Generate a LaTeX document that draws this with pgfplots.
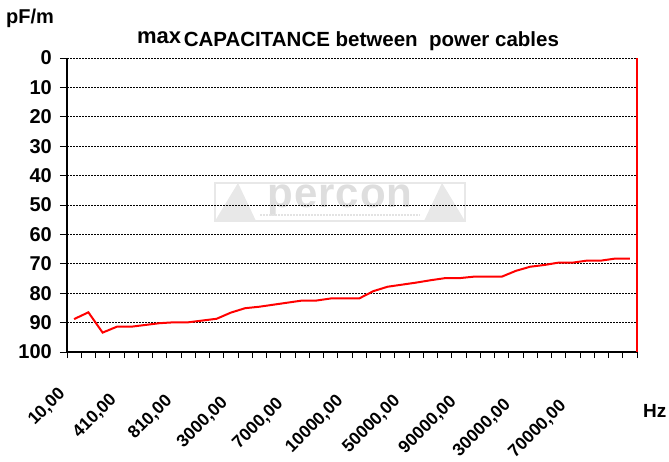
\documentclass[border=0pt]{standalone}
\usepackage{fontspec}
\setmainfont{Liberation Sans}
\usepackage{pgfplots}
\pgfplotsset{compat=1.18}
\begin{document}
\begin{tikzpicture}
\useasboundingbox (0pt,0pt) rectangle (669pt,462pt);
% watermark logo (decoration)
\draw[gray!18, line width=2.5pt] (215pt,241pt) rectangle (465pt,279pt);
\fill[gray!18] (215pt,241pt) -- (238pt,279pt) -- (256pt,241pt) -- cycle;
\fill[gray!18] (465pt,241pt) -- (442pt,279pt) -- (424pt,241pt) -- cycle;
\node[text=gray!26, font=\fontsize{42}{42}\selectfont\bfseries, inner sep=0pt, anchor=base] at (340pt,254pt) {p\kern1pt e\kern1pt r\kern1pt c\kern1pt o\kern1pt n};
\draw[gray!22, line width=1.2pt, dash pattern=on 2pt off 1pt] (260pt,247pt) -- (420pt,247pt);
\begin{axis}[
  at={(67pt,110pt)}, anchor=south west,
  scale only axis, width=570pt, height=294pt,
  xmin=0, xmax=40, ymin=0, ymax=100,
  y dir=reverse,
  axis x line*=bottom, axis y line*=left,
  axis line style={-, line width=1.6pt, black},
  tick align=outside,
  ytick={0,10,...,100},
  major tick length=7pt,
  ymajorgrids,
  major y grid style={black, line width=0.9pt, dash pattern=on 2pt off 1pt},
  xtick={0.5,4.5,...,36.5},
  xticklabels={{10,00},{410,00\kern8pt},{810,00\kern10pt},{3000,00\kern12pt},{7000,00\kern14pt},{10000,00\kern10pt},{50000,00\kern10pt},{90000,00\kern11pt},{30000,00\kern15pt},{70000,00\kern17pt}},
  major x tick style={draw=none},
  minor xtick={0,1,...,40},
  minor tick length=6pt,
  minor x tick style={black, line width=0.9pt},
  major y tick style={black, line width=0.9pt},
  /pgf/number format/assume math mode=true,
  yticklabel style={font=\fontsize{20}{20}\selectfont\bfseries, inner sep=0pt, xshift=-8pt},
  xticklabel style={font=\fontsize{17.5}{17.5}\selectfont\bfseries, inner sep=0pt, xshift=-17pt, yshift=-27pt, rotate=45, anchor=north east},
  clip=false,
]
\addplot[red, line width=2pt, mark=none] coordinates {
(0.5,88.8) (1.5,86.5) (2.5,93.4) (3.5,91.4) (4.5,91.4) (5.5,90.8) (6.5,90.2) (7.5,89.9)
(8.5,89.9) (9.5,89.3) (10.5,88.7) (11.5,86.6) (12.5,85.1) (13.5,84.6) (14.5,83.9) (15.5,83.2)
(16.5,82.5) (17.5,82.5) (18.5,81.8) (19.5,81.8) (20.5,81.8) (21.5,79.3) (22.5,77.8) (23.5,77.1)
(24.5,76.4) (25.5,75.6) (26.5,74.9) (27.5,74.9) (28.5,74.4) (29.5,74.4) (30.5,74.4) (31.5,72.4)
(32.5,71.0) (33.5,70.4) (34.5,69.6) (35.5,69.6) (36.5,68.9) (37.5,68.9) (38.5,68.2) (39.5,68.2)
};
\draw[red, line width=1.4pt] (rel axis cs:1,0) -- (rel axis cs:1,1);
\end{axis}
\node[anchor=base, inner sep=0pt] at (348pt,415pt) {\raisebox{3pt}{\fontsize{22}{22}\selectfont\bfseries max} \fontsize{20.5}{20.5}\selectfont\bfseries CAPACITANCE between\ \ power cables};
\node[anchor=base west, inner sep=0pt, font=\fontsize{20}{20}\selectfont\bfseries] at (6pt,438pt) {pF/m};
\node[anchor=base west, inner sep=0pt, font=\fontsize{19}{19}\selectfont\bfseries] at (643pt,44pt) {Hz};
\end{tikzpicture}
\end{document}
